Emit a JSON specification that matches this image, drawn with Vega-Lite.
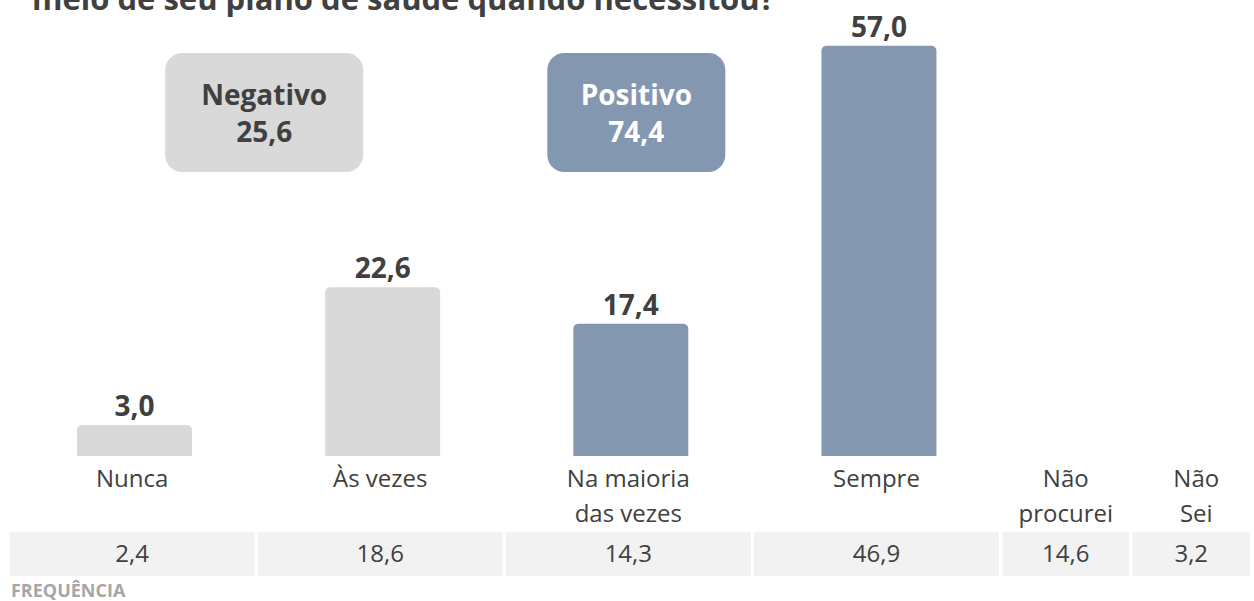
{
  "$schema": "https://vega.github.io/schema/vega-lite/v6.json",
  "background": "#ffffff",
  "padding": {"left": 8, "right": 0, "top": 0, "bottom": 0},
  "spacing": 0,
  "config": {
    "view": {"stroke": null},
    "locale": {"number": {"decimal": ",", "thousands": ".", "grouping": [3], "currency": ["R$", ""]}},
    "text": {"font": "Open Sans", "color": "#404040"}
  },
  "datasets": {
    "cats": [
      {"cat": "Nunca", "label": "Nunca", "pct": 3.0, "freq": 2.4, "grupo": "Negativo"},
      {"cat": "Às vezes", "label": "Às vezes", "pct": 22.6, "freq": 18.6, "grupo": "Negativo"},
      {"cat": "Na maioria das vezes", "label": "Na maioria\ndas vezes", "pct": 17.4, "freq": 14.3, "grupo": "Positivo"},
      {"cat": "Sempre", "label": "Sempre", "pct": 57.0, "freq": 46.9, "grupo": "Positivo"},
      {"cat": "Não procurei", "label": "Não\nprocurei", "pct": null, "freq": 14.6, "grupo": null},
      {"cat": "Não Sei", "label": "Não\nSei", "pct": null, "freq": 3.2, "grupo": null}
    ],
    "boxes": [
      {"grupo": "Negativo", "total": 25.6, "anchor": "Às vezes"},
      {"grupo": "Positivo", "total": 74.4, "anchor": "Na maioria das vezes"}
    ]
  },
  "hconcat": [
    {
      "width": 992.5,
      "height": 601,
      "data": {"name": "cats"},
      "transform": [{"filter": {"field": "cat", "oneOf": ["Nunca", "Às vezes", "Na maioria das vezes", "Sempre"]}}],
      "encoding": {
        "x": {"field": "cat", "type": "nominal", "sort": null, "axis": null,
              "scale": {"domain": ["Nunca", "Às vezes", "Na maioria das vezes", "Sempre"], "paddingInner": 0.012, "paddingOuter": 0.006}}
      },
      "layer": [
        {
          "data": {"values": [{"t": "meio de seu plano de saúde quando necessitou?"}]},
          "mark": {"type": "text", "clip": true, "align": "left", "baseline": "alphabetic", "fontWeight": "bold", "fontSize": 31, "dx": 22.5},
          "encoding": {
            "x": {"datum": "Nunca", "type": "nominal", "bandPosition": 0},
            "y": {"datum": 62.11, "type": "quantitative", "scale": {"domain": [-22.08, 63.53], "nice": false, "zero": false}, "axis": null},
            "text": {"field": "t", "type": "nominal"}
          }
        },
        {
          "data": {"name": "boxes"},
          "transform": [{"filter": {"field": "grupo", "equal": "Negativo"}}],
          "encoding": {
            "x": {"field": "anchor", "type": "nominal"},
            "color": {"field": "grupo", "type": "nominal", "legend": null, "scale": {"domain": ["Negativo", "Positivo"], "range": ["#D9D9D9", "#8497B0"]}}
          },
          "layer": [
            {
              "mark": {"type": "bar", "width": 198, "cornerRadius": 17, "xOffset": -116},
              "encoding": {"y": {"datum": 55.98, "type": "quantitative"}, "y2": {"datum": 39.03}}
            },
            {
              "mark": {"type": "text", "baseline": "alphabetic", "fontWeight": "bold", "fontSize": 28, "dx": -116, "color": "#404040"},
              "encoding": {"y": {"datum": 48.58, "type": "quantitative"}, "text": {"field": "grupo", "type": "nominal"}, "color": {"value": "#404040"}}
            },
            {
              "mark": {"type": "text", "baseline": "alphabetic", "fontWeight": "bold", "fontSize": 28, "dx": -116},
              "encoding": {"y": {"datum": 43.30, "type": "quantitative"}, "text": {"field": "total", "type": "quantitative", "format": ".1f"}, "color": {"value": "#404040"}}
            }
          ]
        },
        {
          "data": {"name": "boxes"},
          "transform": [{"filter": {"field": "grupo", "equal": "Positivo"}}],
          "encoding": {
            "x": {"field": "anchor", "type": "nominal"},
            "color": {"field": "grupo", "type": "nominal", "legend": null}
          },
          "layer": [
            {
              "mark": {"type": "bar", "width": 178, "cornerRadius": 17, "xOffset": 8},
              "encoding": {"y": {"datum": 55.98, "type": "quantitative"}, "y2": {"datum": 39.03}}
            },
            {
              "mark": {"type": "text", "baseline": "alphabetic", "fontWeight": "bold", "fontSize": 28, "dx": 8},
              "encoding": {"y": {"datum": 48.58, "type": "quantitative"}, "text": {"field": "grupo", "type": "nominal"}, "color": {"value": "#FFFFFF"}}
            },
            {
              "mark": {"type": "text", "baseline": "alphabetic", "fontWeight": "bold", "fontSize": 28, "dx": 8},
              "encoding": {"y": {"datum": 43.30, "type": "quantitative"}, "text": {"field": "total", "type": "quantitative", "format": ".1f"}, "color": {"value": "#FFFFFF"}}
            }
          ]
        },
        {
          "mark": {"type": "bar", "width": {"band": 0.469}, "cornerRadiusTopLeft": 5, "cornerRadiusTopRight": 5, "xOffset": 2.5},
          "encoding": {
            "y": {"field": "pct", "type": "quantitative"},
            "y2": {"datum": -1.42},
            "color": {"field": "grupo", "type": "nominal", "legend": null}
          }
        },
        {
          "mark": {"type": "text", "baseline": "alphabetic", "fontWeight": "bold", "fontSize": 28, "dy": -9, "dx": 2.5},
          "encoding": {
            "y": {"field": "pct", "type": "quantitative"},
            "text": {"field": "pct", "type": "quantitative", "format": ".1f"}
          }
        },
        {
          "mark": {"type": "text", "baseline": "alphabetic", "fontSize": 24, "lineBreak": "\n", "lineHeight": 35},
          "encoding": {
            "y": {"datum": -5.77, "type": "quantitative"},
            "text": {"field": "label", "type": "nominal"}
          }
        },
        {
          "mark": {"type": "rect", "color": "#F2F2F2"},
          "encoding": {
            "y": {"datum": -12.25, "type": "quantitative"},
            "y2": {"datum": -18.52}
          }
        },
        {
          "mark": {"type": "text", "baseline": "alphabetic", "fontSize": 24},
          "encoding": {
            "y": {"datum": -16.52, "type": "quantitative"},
            "text": {"field": "freq", "type": "quantitative", "format": ".1f"}
          }
        },
        {
          "data": {"values": [{"t": "FREQUÊNCIA"}]},
          "mark": {"type": "text", "align": "left", "baseline": "alphabetic", "fontWeight": "bold", "fontSize": 18, "color": "#A6A6A6", "dx": 1.5},
          "encoding": {
            "x": {"datum": "Nunca", "type": "nominal", "bandPosition": 0},
            "y": {"datum": -21.55, "type": "quantitative"},
            "text": {"field": "t", "type": "nominal"}
          }
        }
      ]
    },
    {
      "width": 129.5,
      "height": 601,
      "data": {"name": "cats"},
      "transform": [{"filter": {"field": "cat", "equal": "Não procurei"}}],
      "encoding": {
        "x": {"field": "cat", "type": "nominal", "axis": null, "scale": {"paddingInner": 0.024, "paddingOuter": 0.012}}
      },
      "layer": [
        {
          "mark": {"type": "text", "baseline": "alphabetic", "fontSize": 24, "lineBreak": "\n", "lineHeight": 35},
          "encoding": {
            "y": {"datum": -5.77, "type": "quantitative", "scale": {"domain": [-22.08, 63.53], "nice": false, "zero": false}, "axis": null},
            "text": {"field": "label", "type": "nominal"}
          }
        },
        {
          "mark": {"type": "rect", "color": "#F2F2F2"},
          "encoding": {
            "y": {"datum": -12.25, "type": "quantitative"},
            "y2": {"datum": -18.52}
          }
        },
        {
          "mark": {"type": "text", "baseline": "alphabetic", "fontSize": 24},
          "encoding": {
            "y": {"datum": -16.52, "type": "quantitative"},
            "text": {"field": "freq", "type": "quantitative", "format": ".1f"}
          }
        }
      ]
    },
    {
      "width": 120.5,
      "height": 601,
      "data": {"name": "cats"},
      "transform": [{"filter": {"field": "cat", "equal": "Não Sei"}}],
      "encoding": {
        "x": {"field": "cat", "type": "nominal", "axis": null, "scale": {"paddingInner": 0.024, "paddingOuter": 0.012}}
      },
      "layer": [
        {
          "mark": {"type": "text", "baseline": "alphabetic", "fontSize": 24, "lineBreak": "\n", "lineHeight": 35, "dx": 5},
          "encoding": {
            "y": {"datum": -5.77, "type": "quantitative", "scale": {"domain": [-22.08, 63.53], "nice": false, "zero": false}, "axis": null},
            "text": {"field": "label", "type": "nominal"}
          }
        },
        {
          "mark": {"type": "rect", "color": "#F2F2F2"},
          "encoding": {
            "y": {"datum": -12.25, "type": "quantitative"},
            "y2": {"datum": -18.52}
          }
        },
        {
          "mark": {"type": "text", "baseline": "alphabetic", "fontSize": 24},
          "encoding": {
            "y": {"datum": -16.52, "type": "quantitative"},
            "text": {"field": "freq", "type": "quantitative", "format": ".1f"}
          }
        }
      ]
    }
  ]
}
